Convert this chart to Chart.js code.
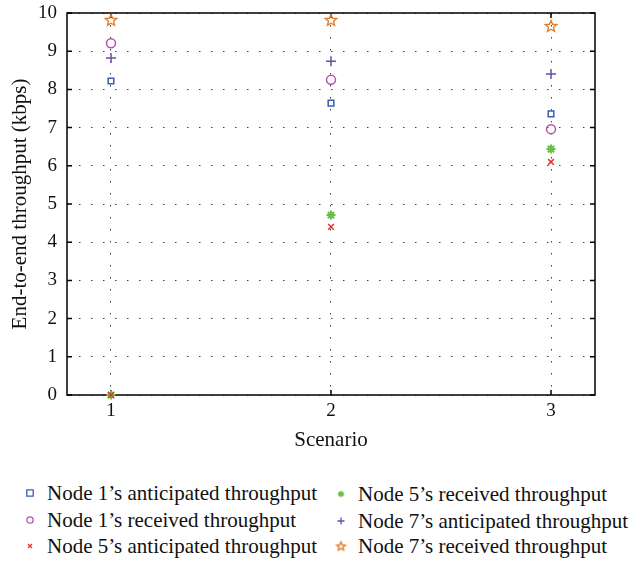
<!DOCTYPE html>
<html lang="en">
<head>
    <meta charset="UTF-8">
    <title>End-to-end throughput per scenario</title>
    <script src="https://cdn.jsdelivr.net/npm/chart.js"></script>
    <style>
        body { margin: 0; background: #fff; font-family: "Liberation Serif", "DejaVu Serif", serif; }
        #wrap { position: relative; width: 634px; height: 561px; overflow: hidden; }
        #chartBox { position: absolute; left: 0; top: 0; width: 634px; height: 465px; }
        .legend { position: absolute; left: 0; top: 481px; width: 634px; height: 80px; }
        .item { position: absolute; font-size: 21px; color: #111; white-space: nowrap; line-height: 24px; }
        .item canvas { position: absolute; left: -24px; top: 5px; }
    </style>
</head>
<body>
    <div id="wrap">
        <div id="chartBox"><canvas id="tputChart" width="634" height="465"></canvas></div>
        <div class="legend" id="legend"></div>
    </div>

    <script>
        // x categories (scenarios) and tick labels
        const scenarios = [1, 2, 3];
        const yTicks = [0, 1, 2, 3, 4, 5, 6, 7, 8, 9, 10];

        // series values (kbps)
        const node1Anticipated = [8.22, 7.64, 7.36];
        const node1Received = [9.21, 8.25, 6.96];
        const node5Anticipated = [0, 4.40, 6.10];
        const node5Received = [0, 4.71, 6.44];
        const node7Anticipated = [8.82, 8.74, 8.40];
        const node7Received = [9.82, 9.82, 9.66];

        // five-pointed star marker (Chart.js has no such pointStyle)
        function starMarker(color, r) {
            const c = document.createElement('canvas');
            const s = Math.ceil(r * 2 + 4);
            c.width = s; c.height = s;
            const g = c.getContext('2d');
            g.strokeStyle = color;
            g.lineWidth = 1.4;
            g.beginPath();
            for (let i = 0; i < 10; i++) {
                const rad = i % 2 === 0 ? r : r * 0.45;
                const a = -Math.PI / 2 + i * Math.PI / 5;
                const px = s / 2 + rad * Math.cos(a);
                const py = s / 2 + 0.5 + rad * Math.sin(a);
                if (i === 0) g.moveTo(px, py); else g.lineTo(px, py);
            }
            g.closePath();
            g.stroke();
            return c;
        }

        const series = [
            { label: 'Node 1\u2019s anticipated throughput', data: node1Anticipated, color: '#3b5cb4', style: 'rect', radius: 4 },
            { label: 'Node 1\u2019s received throughput', data: node1Received, color: '#b64fae', style: 'circle', radius: 4.5 },
            { label: 'Node 5\u2019s anticipated throughput', data: node5Anticipated, color: '#e8312c', style: 'crossRot', radius: 4 },
            { label: 'Node 5\u2019s received throughput', data: node5Received, color: '#6cbd45', style: 'star', radius: 4.5 },
            { label: 'Node 7\u2019s anticipated throughput', data: node7Anticipated, color: '#6b4ea6', style: 'cross', radius: 5 },
            { label: 'Node 7\u2019s received throughput', data: node7Received, color: '#e07d2c', style: 'fivestar', radius: 6 }
        ];

        const datasets = series.map(s => ({
            label: s.label,
            data: s.data.map((v, i) => ({ x: scenarios[i], y: v })),
            borderColor: s.color,
            backgroundColor: s.style === 'star' ? s.color : 'transparent',
            pointStyle: s.style === 'fivestar' ? starMarker(s.color, 6) : s.style,
            pointRadius: s.radius,
            pointBorderWidth: s.style === 'star' ? 2 : 1.5,
            showLine: false,
            clip: false
        }));

        // box frame + inward tick marks on all four sides (under the markers)
        const framePlugin = {
            id: 'frame',
            beforeDatasetsDraw(chart) {
                const { ctx, chartArea: a, scales } = chart;
                ctx.save();
                ctx.strokeStyle = '#000';
                ctx.lineWidth = 1.5;
                ctx.strokeRect(a.left, a.top, a.right - a.left, a.bottom - a.top);
                ctx.beginPath();
                yTicks.forEach(v => {
                    const y = scales.y.getPixelForValue(v);
                    ctx.moveTo(a.left, y); ctx.lineTo(a.left + 5, y);
                    ctx.moveTo(a.right, y); ctx.lineTo(a.right - 5, y);
                });
                scenarios.forEach(v => {
                    const x = scales.x.getPixelForValue(v);
                    ctx.moveTo(x, a.bottom); ctx.lineTo(x, a.bottom - 5);
                    ctx.moveTo(x, a.top); ctx.lineTo(x, a.top + 5);
                });
                ctx.stroke();
                ctx.restore();
            }
        };

        const serif = '"Liberation Serif", "DejaVu Serif", serif';
        const tickFont = { family: serif, size: 19 };
        const titleFont = { family: serif, size: 21 };

        new Chart(document.getElementById('tputChart'), {
            type: 'scatter',
            data: { datasets },
            options: {
                responsive: false,
                animation: false,
                layout: { padding: { top: 13, right: 39, left: 0, bottom: 0 } },
                plugins: { legend: { display: false }, tooltip: { enabled: false } },
                scales: {
                    x: {
                        type: 'linear',
                        min: 0.8,
                        max: 3.2,
                        afterBuildTicks: axis => { axis.ticks = scenarios.map(v => ({ value: v })); },
                        afterFit: axis => { axis.height = 70; axis.paddingLeft = 0; axis.paddingRight = 0; },
                        ticks: { color: '#111', font: tickFont, padding: 5 },
                        grid: { color: '#444', lineWidth: 1, drawTicks: false },
                        border: { display: false, dash: [1.5, 10.5] },
                        title: { display: true, text: 'Scenario', color: '#111', font: titleFont, padding: { top: 4, bottom: 12 } }
                    },
                    y: {
                        min: 0,
                        max: 10,
                        afterBuildTicks: axis => { axis.ticks = yTicks.map(v => ({ value: v })); },
                        afterFit: axis => { axis.width = 67; axis.paddingTop = 0; axis.paddingBottom = 0; },
                        ticks: { color: '#111', font: tickFont, padding: 10 },
                        grid: { color: '#444', lineWidth: 1, drawTicks: false },
                        border: { display: false, dash: [1.5, 10.5] },
                        title: { display: true, text: 'End-to-end throughput (kbps)', color: '#111', font: titleFont, padding: { top: 8, bottom: 4 } }
                    }
                }
            },
            plugins: [framePlugin]
        });

        // two-column legend, column-major like the original figure
        const legendPos = [
            { left: 47, top: 0 }, { left: 47, top: 27 }, { left: 47, top: 53 },
            { left: 358, top: 1 }, { left: 358, top: 28 }, { left: 358, top: 53 }
        ];
        const legendEl = document.getElementById('legend');
        series.forEach((s, i) => {
            const div = document.createElement('div');
            div.className = 'item';
            div.style.left = legendPos[i].left + 'px';
            div.style.top = legendPos[i].top + 'px';
            const mk = document.createElement('canvas');
            mk.width = 14; mk.height = 14;
            const g = mk.getContext('2d');
            g.strokeStyle = s.color; g.fillStyle = s.color; g.lineWidth = 1.3;
            const r = 3.2;
            g.beginPath();
            if (s.style === 'rect') g.rect(7 - r, 7 - r, 2 * r, 2 * r);
            else if (s.style === 'circle') g.arc(7, 7, r, 0, Math.PI * 2);
            else if (s.style === 'crossRot') { g.moveTo(5, 5); g.lineTo(9, 9); g.moveTo(9, 5); g.lineTo(5, 9); }
            else if (s.style === 'cross') { g.moveTo(7, 3.5); g.lineTo(7, 10.5); g.moveTo(3.5, 7); g.lineTo(10.5, 7); }
            else if (s.style === 'star') {
                g.lineWidth = 1.3;
                for (let k = 0; k < 4; k++) {
                    const a = k * Math.PI / 4;
                    g.moveTo(7 - 3.3 * Math.cos(a), 7 - 3.3 * Math.sin(a));
                    g.lineTo(7 + 3.3 * Math.cos(a), 7 + 3.3 * Math.sin(a));
                }
            }
            g.stroke();
            if (s.style === 'fivestar') g.drawImage(starMarker(s.color, 4.5), 7 - 6.5, 7 - 6.5);
            div.appendChild(mk);
            div.appendChild(document.createTextNode(s.label));
            legendEl.appendChild(div);
        });
    </script>
</body>
</html>
